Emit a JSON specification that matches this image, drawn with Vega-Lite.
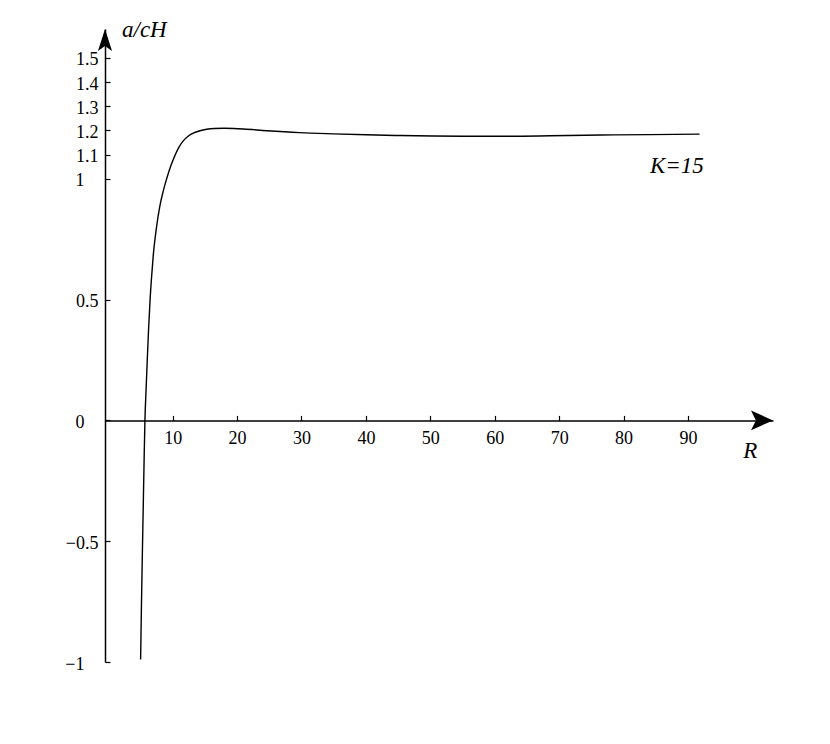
{
  "$schema": "https://vega.github.io/schema/vega-lite/v6.json",
  "width": 668,
  "height": 633,
  "autosize": {"type": "none"},
  "padding": {"left": 105, "top": 29, "right": 57, "bottom": 82},
  "background": "white",
  "config": {"view": {"stroke": null}},
  "datasets": {
    "curve": [
      {"R": 5.03, "v": -0.99}, {"R": 5.15, "v": -0.78}, {"R": 5.28, "v": -0.58}, {"R": 5.42, "v": -0.38},
      {"R": 5.56, "v": -0.18}, {"R": 5.7, "v": 0.0}, {"R": 5.88, "v": 0.13}, {"R": 6.06, "v": 0.25},
      {"R": 6.27, "v": 0.38}, {"R": 6.5, "v": 0.5}, {"R": 6.75, "v": 0.6}, {"R": 7.0, "v": 0.685},
      {"R": 7.5, "v": 0.8}, {"R": 8.0, "v": 0.885}, {"R": 8.5, "v": 0.945}, {"R": 9.07, "v": 1.0},
      {"R": 9.6, "v": 1.045}, {"R": 10.1, "v": 1.08}, {"R": 10.9, "v": 1.127}, {"R": 11.65, "v": 1.157},
      {"R": 12.4, "v": 1.176}, {"R": 13.2, "v": 1.189}, {"R": 14.24, "v": 1.199}, {"R": 15.3, "v": 1.205},
      {"R": 16.5, "v": 1.208}, {"R": 18.0, "v": 1.209}, {"R": 19.5, "v": 1.208}, {"R": 21.0, "v": 1.206},
      {"R": 24.6, "v": 1.199}, {"R": 29.7, "v": 1.191}, {"R": 34.9, "v": 1.186}, {"R": 40.1, "v": 1.182},
      {"R": 45.3, "v": 1.179}, {"R": 50.4, "v": 1.177}, {"R": 55.0, "v": 1.176}, {"R": 60.8, "v": 1.176},
      {"R": 68.6, "v": 1.178}, {"R": 76.4, "v": 1.181}, {"R": 84.1, "v": 1.183}, {"R": 91.8, "v": 1.185}
    ],
    "arrowX": [{"R": 103.2, "v": 0}],
    "arrowY": [{"R": -0.5, "v": 1.62}],
    "labels": [
      {"R": 2.14, "v": 1.587, "text": "a/cH"},
      {"R": 98.6, "v": -0.157, "text": "R"},
      {"R": 84.1, "v": 1.023, "text": "K=15"}
    ]
  },
  "layer": [
    {
      "data": {"name": "curve"},
      "mark": {"type": "line", "color": "black", "strokeWidth": 1.4, "interpolate": "monotone"},
      "encoding": {
        "x": {
          "field": "R", "type": "quantitative",
          "scale": {"domain": [-0.5, 103.2], "nice": false, "zero": false},
          "axis": {
            "orient": "bottom", "offset": -241.6, "title": null, "grid": false,
            "values": [10, 20, 30, 40, 50, 60, 70, 80, 90],
            "tickSize": -5, "tickColor": "black", "tickWidth": 1.2,
            "domainColor": "black", "domainWidth": 1.5,
            "labelFont": "Liberation Serif", "labelFontSize": 18, "labelColor": "black",
            "labelPadding": 14
          }
        },
        "y": {
          "field": "v", "type": "quantitative",
          "scale": {"domain": [-1, 1.62], "nice": false, "zero": false},
          "axis": {
            "orient": "left", "title": null, "grid": false,
            "values": [-1, -0.5, 0, 0.5, 1, 1.1, 1.2, 1.3, 1.4, 1.5],
            "format": "~g",
            "tickSize": -5, "tickColor": "black", "tickWidth": 1.2,
            "domainColor": "black", "domainWidth": 1.5,
            "labelFont": "Liberation Serif", "labelFontSize": 18, "labelColor": "black",
            "labelOffset": 2,
            "labelPadding": {"condition": {"test": "datum.value == round(datum.value)", "value": 26}, "value": 12}
          }
        }
      }
    },
    {
      "data": {"name": "arrowX"},
      "mark": {"type": "point", "shape": "M0,0 L-2,-0.9 L-1.55,0 L-2,0.9 Z", "size": 484, "filled": true, "color": "black", "opacity": 1},
      "encoding": {"x": {"field": "R", "type": "quantitative"}, "y": {"field": "v", "type": "quantitative"}}
    },
    {
      "data": {"name": "arrowY"},
      "mark": {"type": "point", "shape": "M0,0 L-0.64,2 L0,1.55 L0.64,2 Z", "size": 484, "filled": true, "color": "black", "opacity": 1},
      "encoding": {"x": {"field": "R", "type": "quantitative"}, "y": {"field": "v", "type": "quantitative"}}
    },
    {
      "data": {"name": "labels"},
      "mark": {"type": "text", "font": "Liberation Serif", "fontStyle": "italic", "fontSize": 23, "color": "black", "baseline": "alphabetic", "align": "left"},
      "encoding": {
        "x": {"field": "R", "type": "quantitative"},
        "y": {"field": "v", "type": "quantitative"},
        "text": {"field": "text"}
      }
    }
  ]
}
